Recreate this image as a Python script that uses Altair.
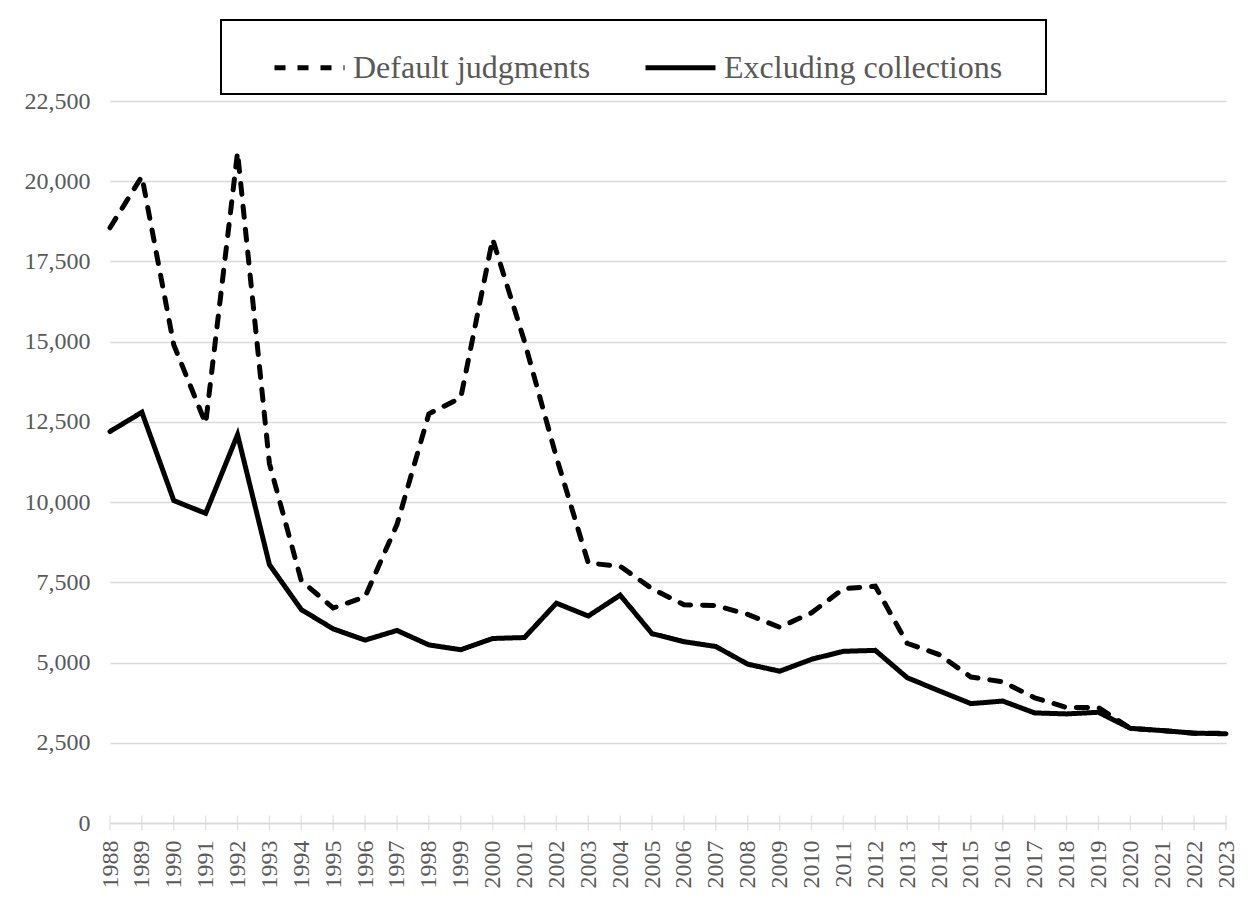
import altair as alt
import pandas as pd

years = [1988, 1989, 1990, 1991, 1992, 1993, 1994, 1995, 1996, 1997, 1998, 1999,
         2000, 2001, 2002, 2003, 2004, 2005, 2006, 2007, 2008, 2009, 2010, 2011,
         2012, 2013, 2014, 2015, 2016, 2017, 2018, 2019, 2020, 2021, 2022, 2023]

default_judgments = [18550, 20150, 14900, 12450, 20900, 11200, 7550, 6700, 7050, 9300,
                     12750, 13250, 18200, 15000, 11400, 8100, 8000, 7300, 6800, 6780,
                     6500, 6100, 6550, 7300, 7380, 5600, 5250, 4550, 4400, 3900,
                     3600, 3600, 2950, 2880, 2800, 2800]

excluding_collections = [12200, 12800, 10050, 9650, 12100, 8050, 6650, 6050, 5700, 6000,
                         5550, 5400, 5750, 5780, 6850, 6450, 7100, 5900, 5650, 5500,
                         4950, 4730, 5100, 5350, 5380, 4530, 4120, 3720, 3800, 3430,
                         3400, 3450, 2950, 2880, 2800, 2780]

series_names = ["Default judgments", "Excluding collections"]
y_ticks = [0, 2500, 5000, 7500, 10000, 12500, 15000, 17500, 20000, 22500]

rows = []
for name, vals in zip(series_names, [default_judgments, excluding_collections]):
    for yr, v in zip(years, vals):
        rows.append({"year": yr, "value": v, "series": name})
df = pd.DataFrame(rows)
ticks_df = pd.DataFrame({"year": years, "value": [0] * len(years)})

FONT = "Liberation Serif"
TXT = "#595959"
GRID = "#d9d9d9"

x_scale = alt.Scale(domain=[1988, 2023], nice=False, zero=False)
y_scale = alt.Scale(domain=[0, 22500], nice=False)

x_axis = alt.Axis(values=years, labelExpr="format(datum.value, 'd')", labelAngle=270,
                  labelPadding=17, ticks=False, grid=False, domainColor=GRID,
                  domainWidth=1.5, title=None, labelOverlap=False, labelBound=False)
y_axis = alt.Axis(values=y_ticks, labelExpr="format(datum.value, ',')",
                  labelPadding=20, ticks=False, domain=False,
                  gridColor=GRID, gridWidth=1.5, title=None)

lines = alt.Chart(df).mark_line(strokeWidth=5, strokeCap="round", color="black").encode(
    x=alt.X("year:Q", scale=x_scale, axis=x_axis),
    y=alt.Y("value:Q", scale=y_scale, axis=y_axis),
    strokeDash=alt.StrokeDash(
        "series:N",
        scale=alt.Scale(domain=series_names, range=[[11, 12], [1, 0]]),
        legend=alt.Legend(
            orient="none", legendX=111, legendY=-81, direction="horizontal",
            title="\u00a0", titleOrient="right", titleFontSize=1, titlePadding=34,
            labelFont=FONT, labelFontSize=32, labelColor=TXT, labelOffset=6,
            labelLimit=500,
            symbolType="stroke", symbolSize=4900, symbolStrokeWidth=5,
            symbolStrokeColor="black", symbolOffset=41, columnPadding=11,
            padding=10, strokeColor="black",
        ),
    ),
)

xticks = alt.Chart(ticks_df).mark_tick(orient="vertical", size=15, thickness=1.5,
                                        color=GRID).encode(
    x=alt.X("year:Q", scale=x_scale, axis=x_axis),
    y=alt.Y("value:Q", scale=y_scale, axis=y_axis),
)

chart = alt.layer(lines, xticks).properties(
    width=1116, height=722,
    autosize=alt.AutoSizeParams(type="none"),
    padding={"left": 102, "top": 93, "right": 15, "bottom": 70},
).configure_view(stroke=None).configure_legend(strokeWidth=2).configure_axis(
    labelFont=FONT, labelFontSize=24, labelColor=TXT
)

chart.save("out.html", embed_options={"renderer": "svg", "actions": False})
